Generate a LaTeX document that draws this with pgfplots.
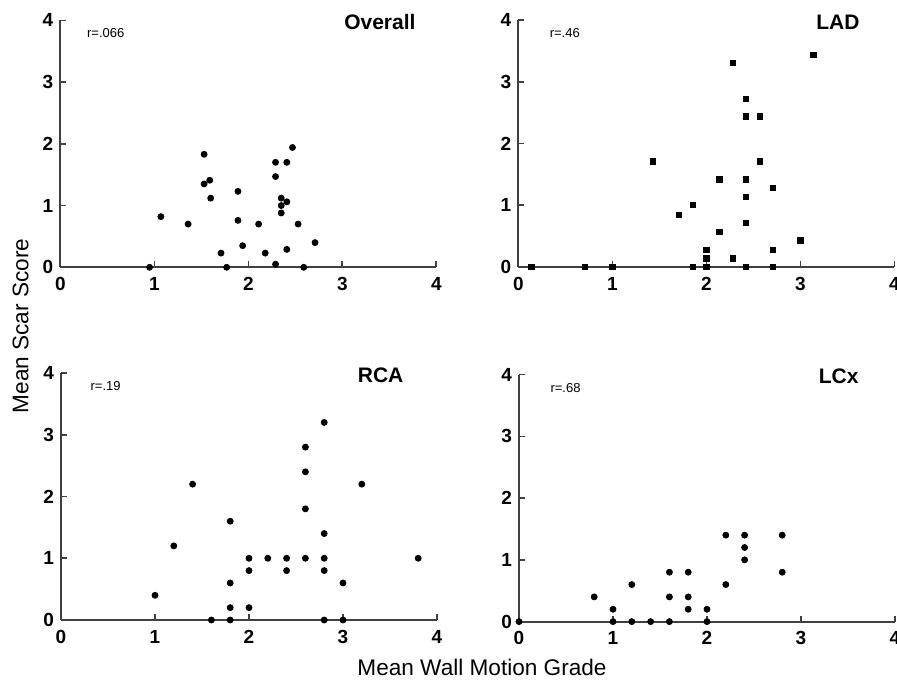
\documentclass[border=0pt]{standalone}
\usepackage{fontspec}
\setmainfont{Liberation Sans}
\usepackage{pgfplots}
\pgfplotsset{compat=1.18}

\pgfplotsset{
  panel/.style={
    width=188pt, height=123.5pt, scale only axis,
    anchor=south west, clip=false,
    xmin=0, xmax=4, ymin=0, ymax=4,
    axis lines=left,
    axis line style={-, line width=0.9pt, black!75},
    xtick={0,...,4}, ytick={0,...,4},
    xticklabels={0,1,2,3,4}, yticklabels={0,1,2,3,4},
    tick align=inside, major tick length=3pt,
    tick style={black!75, line width=0.8pt},
    ticklabel style={font=\fontsize{9.5}{10}\selectfont\bfseries},
    xticklabel style={yshift=-1.5pt},
  },
  dots/.style={only marks, mark=*, mark size=1.5pt, black},
}
\newcommand{\rtext}[2]{\node[anchor=west, font=\fontsize{6.5}{7}\selectfont] at (axis cs:#1,3.79) {#2};}
\newcommand{\ptitle}[1]{\node[font=\fontsize{10.5}{12}\selectfont\bfseries] at (axis cs:3.4,3.97) {#1};}

\begin{document}
\begin{tikzpicture}
\path[use as bounding box] (0,0) rectangle (448.5pt,-339.5pt);

% Overall
\begin{axis}[panel, at={(30.15pt,-133.65pt)}]
\addplot[dots] coordinates {
 (0.95,0) (1.07,0.82) (1.36,0.70) (1.53,1.83) (1.53,1.35) (1.59,1.41)
 (1.60,1.12) (1.71,0.23) (1.77,0) (1.89,1.23) (1.89,0.76) (1.94,0.35)
 (2.11,0.70) (2.18,0.23) (2.29,1.70) (2.29,1.47) (2.29,0.05) (2.35,1.12)
 (2.35,1.00) (2.35,0.88) (2.41,1.70) (2.41,1.06) (2.41,0.29) (2.47,1.94)
 (2.53,0.70) (2.59,0) (2.71,0.40)
};
\rtext{0.21}{r=.066}
\ptitle{Overall}
\end{axis}

% LAD
\begin{axis}[panel, at={(259.15pt,-133.5pt)}]
\addplot[dots, mark=square*, mark size=1.3pt] coordinates {
 (0.14,0) (0.71,0) (1.00,0) (1.43,1.71) (1.71,0.85) (1.86,1.00) (1.86,0)
 (2.00,0.28) (2.00,0.14) (2.00,0) (2.14,1.42) (2.14,0.57) (2.28,3.30)
 (2.28,0.14) (2.42,2.72) (2.42,2.44) (2.42,1.42) (2.42,1.14) (2.42,0.71)
 (2.42,0) (2.57,2.44) (2.57,1.71) (2.71,1.28) (2.71,0.28) (2.71,0)
 (3.00,0.43) (3.14,3.44)
};
\rtext{0.26}{r=.46}
\ptitle{LAD}
\end{axis}

% RCA
\begin{axis}[panel, at={(30.5pt,-310pt)}]
\addplot[dots] coordinates {
 (1.0,0.4) (1.2,1.2) (1.4,2.2) (1.6,0) (1.8,1.6) (1.8,0.6) (1.8,0.2) (1.8,0)
 (2.0,1.0) (2.0,0.8) (2.0,0.2) (2.2,1.0) (2.4,1.0) (2.4,0.8)
 (2.6,2.8) (2.6,2.4) (2.6,1.8) (2.6,1.0) (2.8,3.2) (2.8,1.4) (2.8,1.0)
 (2.8,0.8) (2.8,0) (3.0,0.6) (3.0,0) (3.2,2.2) (3.8,1.0)
};
\rtext{0.24}{r=.19}
\ptitle{RCA}
\end{axis}

% LCx
\begin{axis}[panel, at={(259.5pt,-310.8pt)}]
\addplot[dots] coordinates {
 (0,0) (0.8,0.4) (1.0,0.2) (1.0,0) (1.2,0.6) (1.2,0) (1.4,0)
 (1.6,0.8) (1.6,0.4) (1.6,0) (1.8,0.8) (1.8,0.4) (1.8,0.2)
 (2.0,0.2) (2.0,0) (2.2,1.4) (2.2,0.6) (2.4,1.4) (2.4,1.2) (2.4,1.0)
 (2.8,1.4) (2.8,0.8)
};
\rtext{0.26}{r=.68}
\ptitle{LCx}
\end{axis}

\node[rotate=90, font=\fontsize{11.3}{13}\selectfont] at (10.35pt,-163pt) {Mean Scar Score};
\node[font=\fontsize{11.3}{13}\selectfont] at (241pt,-333.5pt) {Mean Wall Motion Grade};
\end{tikzpicture}
\end{document}
